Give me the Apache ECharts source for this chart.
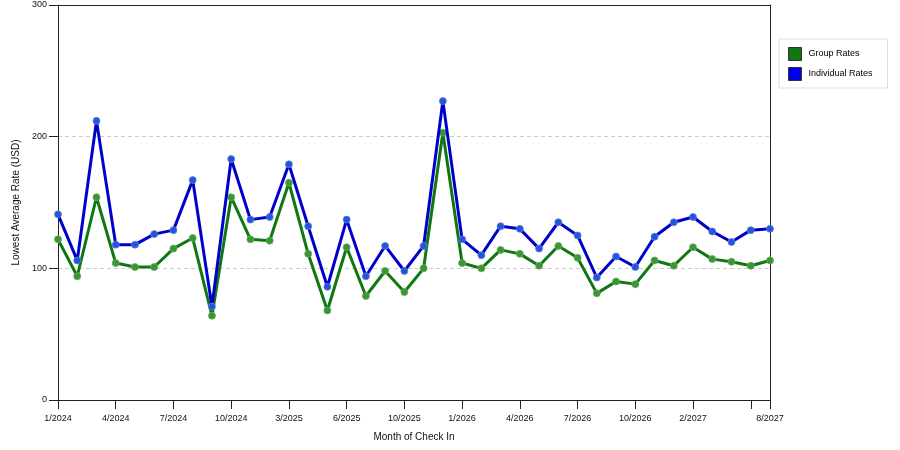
<!DOCTYPE html>
<html><head><meta charset="utf-8">
<script src="https://cdn.jsdelivr.net/npm/echarts@6/dist/echarts.min.js"></script>
<style>html,body{margin:0;padding:0;background:#fff}#c{width:900px;height:450px}</style>
</head><body><div id="c"></div>
<script>
var categories = ['1/2024','2/2024','3/2024','4/2024','5/2024','6/2024','7/2024','8/2024','9/2024','10/2024','11/2024','12/2024',
'3/2025','4/2025','5/2025','6/2025','7/2025','8/2025','10/2025','11/2025','12/2025',
'1/2026','2/2026','3/2026','4/2026','5/2026','6/2026','7/2026','8/2026','9/2026','10/2026','11/2026','12/2026',
'2/2027','3/2027','4/2027','7/2027','8/2027'];
var groupRates = [122,94,154,104,101,101,115,123,64,154,122,121,165,111,68,116,79,98,82,100,203,104,100,114,111,102,117,108,81,90,88,106,102,116,107,105,102,106];
var individualRates = [141,106,212,118,118,126,129,167,71,183,137,139,179,132,86,137,94,117,98,117,227,122,110,132,130,115,135,125,93,109,101,124,135,139,128,120,129,130];
var yTicks = [0,100,200,300];

var last = categories.length - 1;
var font = 'Liberation Sans, Arial, sans-serif';
var chart = echarts.init(document.getElementById('c'));
chart.setOption({
  animation: false,
  backgroundColor: '#fff',
  grid: {left: 58, right: 130, top: 5, bottom: 50},
  legend: {
    orient: 'vertical', left: 779, top: 39, padding: [8, 15, 7, 9],
    borderColor: '#ddd', borderWidth: 1, backgroundColor: '#fff',
    itemWidth: 13, itemHeight: 13, itemGap: 6,
    textStyle: {fontFamily: font, fontSize: 9, color: '#000', padding: [0, 0, 0, 2]},
    data: [
      {name: 'Group Rates', icon: 'rect', itemStyle: {color: '#117711', borderColor: '#333', borderWidth: 1}},
      {name: 'Individual Rates', icon: 'rect', itemStyle: {color: '#0000ee', borderColor: '#333', borderWidth: 1}}
    ]
  },
  xAxis: [{
    type: 'category', data: categories, boundaryGap: false,
    name: 'Month of Check In', nameLocation: 'middle', nameGap: 32,
    nameTextStyle: {fontFamily: font, fontSize: 10, color: '#111'},
    axisLine: {onZero: false, lineStyle: {color: '#222', width: 1}},
    axisTick: {length: 9, lineStyle: {color: '#222'}, interval: function(i){ return i % 3 === 0 || i === last; }},
    axisLabel: {fontFamily: font, fontSize: 9, color: '#111', margin: 14,
      interval: function(i){ return (i % 3 === 0 && i !== 36) || i === last; }},
    splitLine: {show: false}
  }, {
    type: 'category', data: categories, boundaryGap: false, position: 'top',
    axisLine: {show: true, onZero: false, lineStyle: {color: '#222', width: 1}},
    axisTick: {show: false}, axisLabel: {show: false}, splitLine: {show: false}
  }],
  yAxis: [{
    type: 'value', min: 0, max: 300, interval: 100,
    name: 'Lowest Average Rate (USD)', nameLocation: 'middle', nameGap: 33,
    nameTextStyle: {fontFamily: font, fontSize: 10, color: '#111'},
    axisLine: {show: true, onZero: false, lineStyle: {color: '#222', width: 1}},
    axisTick: {show: true, length: 9, lineStyle: {color: '#222'}},
    axisLabel: {fontFamily: font, fontSize: 9, color: '#111', margin: 11,
      formatter: function(v){ return yTicks.indexOf(v) >= 0 ? String(v) : ''; }},
    splitLine: {show: true, lineStyle: {color: '#ccc', type: [4, 3], width: 1}}
  }, {
    type: 'value', min: 0, max: 300, interval: 100, position: 'right',
    axisLine: {show: true, onZero: false, lineStyle: {color: '#222', width: 1}},
    axisTick: {show: false}, axisLabel: {show: false}, splitLine: {show: false}
  }],
  series: [
    {name: 'Group Rates', type: 'line', data: groupRates, symbol: 'circle', symbolSize: 7,
     lineStyle: {color: '#117711', width: 3}, itemStyle: {color: '#339933', borderColor: 'rgba(120,160,100,0.8)', borderWidth: 1}, z: 2},
    {name: 'Individual Rates', type: 'line', data: individualRates, symbol: 'circle', symbolSize: 7,
     lineStyle: {color: '#0000cc', width: 3}, itemStyle: {color: '#2255dd', borderColor: 'rgba(100,130,200,0.8)', borderWidth: 1}, z: 3}
  ]
});
</script></body></html>
